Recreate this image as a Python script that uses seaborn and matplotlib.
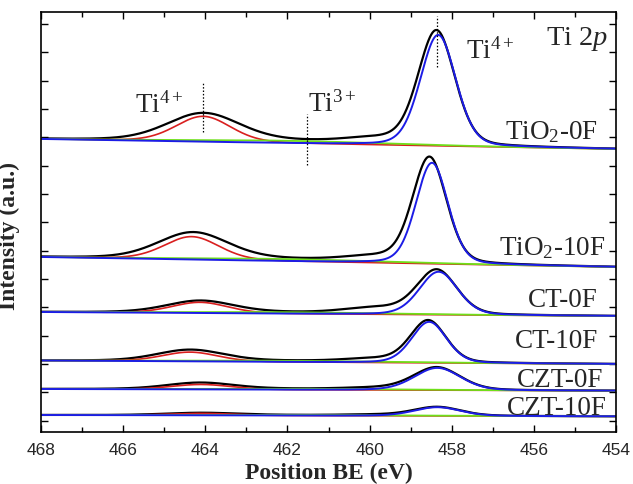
import numpy as np
import pandas as pd
import matplotlib
matplotlib.use("Agg")
import matplotlib.pyplot as plt
import seaborn as sns
from matplotlib.ticker import MultipleLocator

# ---------------- data ----------------
samples = ["TiO$_2$-0F", "TiO$_2$-10F", "CT-0F", "CT-10F", "CZT-0F", "CZT-10F"]

# linear background (offset level) at 468 eV and at 454 eV
base_left = [293, 175, 120, 71.5, 43, 17]
base_right = [283, 165, 116, 68, 41.3, 15.7]

# measured envelope (black): Ti 2p3/2 peak
black_main_center = [458.37, 458.54, 458.36, 458.57, 458.36, 458.35]
black_main_height = [114, 105, 44, 41.5, 22.5, 8.8]
black_main_fwhm = [1.05, 0.97, 1.14, 1.02, 1.34, 1.34]
# measured envelope (black): Ti 2p1/2 peak
black_p12_center = [464.05, 464.30, 464.13, 464.37, 464.13, 464.10]
black_p12_height = [27, 26, 11.5, 11, 6.2, 2.2]
black_p12_fwhm = [2.07, 2.0, 1.9, 1.9, 1.9, 2.0]
# shoulder on the high-BE side of the main peak (black only)
shoulder_center = [459.8, 459.8, 459.8, 459.8, 459.8, 459.8]
shoulder_height = [4.5, 4.5, 5.5, 3, 1.5, 0.8]
shoulder_fwhm = [1.8, 1.8, 1.8, 1.8, 1.8, 1.8]

# fitted components
blue_center = [458.33, 458.48, 458.32, 458.55, 458.35, 458.35]   # Ti4+ 2p3/2
blue_height = [111, 101, 43, 41, 22.3, 8.7]
blue_fwhm = [1.02, 0.92, 1.10, 1.00, 1.32, 1.32]
red_center = [464.05, 464.33, 464.13, 464.37, 464.10, 464.10]    # Ti4+ 2p1/2
red_height = [25.5, 23, 10.8, 9.3, 5, 2]
red_fwhm = [1.58, 1.58, 1.6, 1.6, 1.7, 1.8]
green_center = [462.0, 462.0, 462.0, 462.0, 462.0, 462.0]        # Ti3+
green_height = [2.5, 2.2, 1.5, 1.2, 1.0, 0.6]
green_fwhm = [6, 6, 6, 6, 6, 6]

x_ticks = [468, 466, 464, 462, 460, 458, 456, 454]
x_label = "Position BE (eV)"
y_label = "Intensity (a.u.)"

# ---------------- build curves ----------------
be = np.linspace(468, 454, 1401)


def pv(x, c, h, w, eta=0.2):
    d = (x - c) / w
    return h * (eta / (1 + 4 * d ** 2) + (1 - eta) * np.exp(-4 * np.log(2) * d ** 2))


rows = []
for i, s in enumerate(samples):
    bg = base_right[i] + (base_left[i] - base_right[i]) * (be - 454) / 14.0
    green_p = pv(be, green_center[i], green_height[i], green_fwhm[i], 0.0)
    blue = bg + pv(be, blue_center[i], blue_height[i], blue_fwhm[i])
    red = bg + pv(be, red_center[i], red_height[i], red_fwhm[i])
    green = bg + green_p
    black = (bg + green_p
             + pv(be, black_main_center[i], black_main_height[i], black_main_fwhm[i])
             + pv(be, black_p12_center[i], black_p12_height[i], black_p12_fwhm[i])
             + pv(be, shoulder_center[i], shoulder_height[i], shoulder_fwhm[i], 0.0))
    for comp, arr in (("black", black), ("red", red), ("green", green), ("blue", blue)):
        rows.append(pd.DataFrame({"BE": be, "I": arr, "sample": s, "comp": comp}))
df = pd.concat(rows, ignore_index=True)

# ---------------- plot ----------------
sns.set_theme(style="ticks")
plt.rcParams["font.family"] = ["Liberation Sans", "DejaVu Sans"]
plt.rcParams["mathtext.fontset"] = "custom"
plt.rcParams["mathtext.rm"] = "Liberation Serif"
plt.rcParams["mathtext.it"] = "Liberation Serif:italic"
plt.rcParams["mathtext.bf"] = "Liberation Serif:bold"

fig = plt.figure(figsize=(6.33, 4.85), dpi=100)
ax = fig.add_axes([41 / 633, 1 - 433 / 485, 575 / 633, 420 / 485])

colors = {"black": "#000000", "red": "#d91f1f", "green": "#6fe01a", "blue": "#1c1ce6"}
widths = {"black": 1.6, "red": 1.2, "green": 1.3, "blue": 1.4}
for s in samples:
    for comp in ("black", "red", "green", "blue"):
        sub = df[(df["sample"] == s) & (df["comp"] == comp)]
        sns.lineplot(data=sub, x="BE", y="I", ax=ax, color=colors[comp],
                     linewidth=widths[comp], sort=False, estimator=None, legend=False)

ax.set_xlim(468, 454)
ax.set_ylim(0, 420)
ax.set_xticks(x_ticks)
ax.set_xticklabels([str(t) for t in x_ticks], fontsize=12.5, family="Liberation Sans")
ax.xaxis.set_minor_locator(MultipleLocator(1))
ax.set_yticks(np.arange(11.4, 420, 28.33))
ax.set_yticklabels([])
ax.tick_params(axis="both", which="both", direction="in", top=True, right=True,
               width=1.0, color="black")
ax.tick_params(axis="both", which="major", length=5)
ax.tick_params(axis="x", which="minor", length=3.5)
ax.tick_params(axis="x", which="major", pad=7)
for sp in ax.spines.values():
    sp.set_linewidth(1.2)
    sp.set_color("black")

ax.set_xlabel(x_label, fontsize=17, fontweight="bold", family="Liberation Serif", labelpad=4)
ax.set_ylabel(y_label, fontsize=17, fontweight="bold", family="Liberation Serif", labelpad=6)
ax.yaxis.set_label_coords(-0.036, 0.47)

# dotted marker lines
for xv, y0, y1 in ((464.05, 300, 350), (461.52, 267, 318), (458.37, 365, 416)):
    ax.plot([xv, xv], [y0, y1], color="black", linestyle=(0, (1.2, 1.5)), linewidth=0.9)

serif = "Liberation Serif"
ax.text(465.71, 320, "Ti$^{4+}$", fontsize=19.5, family=serif, ha="left", va="baseline")
ax.text(461.50, 321, "Ti$^{3+}$", fontsize=19.5, family=serif, ha="left", va="baseline")
ax.text(457.65, 374.7, "Ti$^{4+}$", fontsize=19.5, family=serif, ha="left", va="baseline")
ax.text(454.20, 388, "Ti 2$\\mathit{p}$", fontsize=20.5, family=serif, ha="right", va="baseline")

label_x = [454.44, 454.27, 454.44, 454.44, 454.32, 454.22]
label_y = [293.7, 178, 126.3, 84.7, 46.3, 18]
for s, lx, ly in zip(samples, label_x, label_y):
    ax.text(lx, ly, s, fontsize=19.5, family=serif, ha="right", va="baseline")

fig.savefig("out.png", dpi=100)
